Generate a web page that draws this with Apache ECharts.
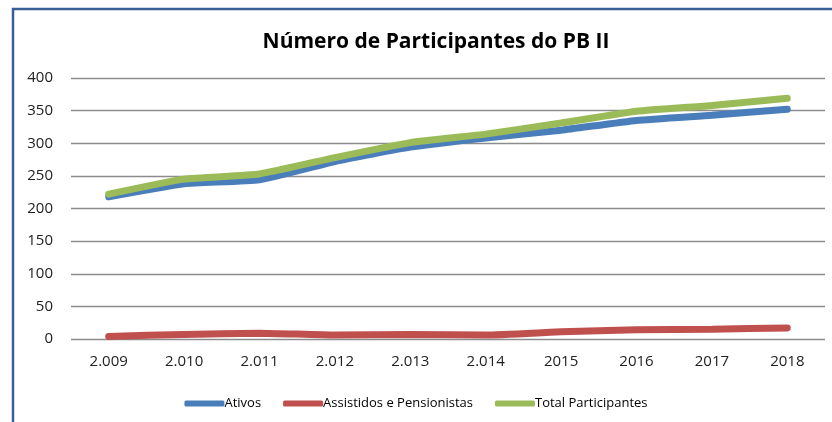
<!DOCTYPE html>
<html>
<head>
<meta charset="utf-8">
<script src="https://cdn.jsdelivr.net/npm/echarts@6/dist/echarts.min.js"></script>
<style>
  html, body { margin: 0; padding: 0; background: #fff; }
  #chart { width: 832px; height: 422px; }
</style>
</head>
<body>
<div id="chart"></div>
<script>
var anos = ['2.009', '2.010', '2.011', '2.012', '2.013', '2.014', '2015', '2016', '2017', '2018'];
var ativos = [218, 238, 244, 272, 294, 308, 320, 335, 343, 352];
var assistidos = [4, 7, 9, 6, 7, 6, 11, 14, 15, 17];
var total = [222, 245, 253, 278, 301, 314, 331, 349, 358, 369];
var yTicks = [0, 50, 100, 150, 200, 250, 300, 350, 400];

var fonte = '"Open Sans", sans-serif';

var chart = echarts.init(document.getElementById('chart'));

var option = {
  animation: false,
  title: {
    text: 'Número de Participantes do PB II',
    left: 431,
    top: 27,
    textAlign: 'center',
    textStyle: { fontFamily: fonte, fontSize: 21, fontWeight: 'bold', color: '#000' }
  },
  graphic: [
    { type: 'polyline', shape: { points: [[13, 422], [13, 9], [832, 9]] },
      style: { stroke: '#3a5f96', lineWidth: 2.5, fill: null } }
  ],
  legend: {
    left: 'center',
    top: 392,
    itemWidth: 40,
    itemHeight: 6,
    itemGap: 22,
    icon: 'roundRect',
    textStyle: { fontFamily: fonte, fontSize: 13, color: '#000', padding: [0, 0, 0, -5] },
    data: ['Ativos', 'Assistidos e Pensionistas', 'Total Participantes']
  },
  grid: { left: 71, right: 7, top: 78, bottom: 83 },
  xAxis: {
    type: 'category',
    data: anos,
    boundaryGap: true,
    axisLine: { show: false },
    axisTick: { show: false },
    axisLabel: { fontFamily: fonte, fontSize: 15, color: '#222', margin: 15 }
  },
  yAxis: {
    type: 'value',
    min: yTicks[0],
    max: yTicks[yTicks.length - 1],
    interval: 50,
    axisLine: { show: false },
    axisTick: { show: false },
    axisLabel: { fontFamily: fonte, fontSize: 15, color: '#222', margin: 18 },
    splitLine: { lineStyle: { color: '#8c8c8c', width: 1.3 } }
  },
  series: [
    { name: 'Ativos', type: 'line', data: ativos, smooth: 0.15, showSymbol: false,
      color: '#4a7ebb', lineStyle: { width: 7, color: '#4a7ebb', cap: 'round' } },
    { name: 'Assistidos e Pensionistas', type: 'line', data: assistidos, smooth: 0.15, showSymbol: false,
      color: '#c0504d', lineStyle: { width: 7, color: '#c0504d', cap: 'round' } },
    { name: 'Total Participantes', type: 'line', data: total, smooth: 0.15, showSymbol: false,
      color: '#9bbb59', lineStyle: { width: 7, color: '#9bbb59', cap: 'round' } }
  ]
};

chart.setOption(option);
</script>
</body>
</html>
